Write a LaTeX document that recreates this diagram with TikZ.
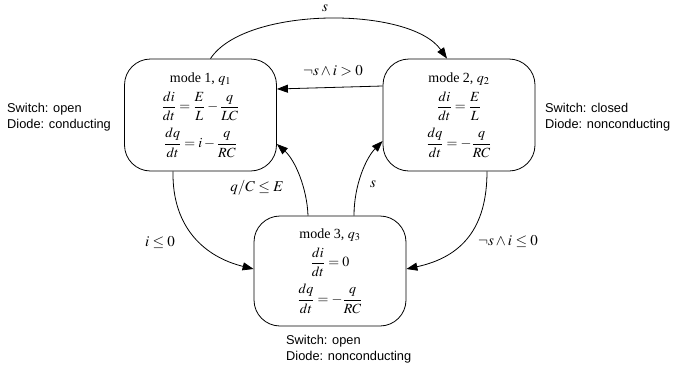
\documentclass[tikz,border=0pt]{standalone}
\usepackage{mathptmx}
\usepackage{fontspec}
\setmainfont{Liberation Serif}
\newfontfamily\arialf{Liberation Sans}
\usetikzlibrary{arrows.meta,calc}
\tikzset{
  mode/.style={draw, line width=0.8pt, rounded corners=26pt, minimum width=152pt, minimum height=112pt, align=center, inner sep=0pt, font=\fontsize{14}{17}\selectfont},
  conn/.style={draw, line width=0.8pt, -{Triangle[length=11pt,width=8pt]}},
  lbl/.style={font=\fontsize{15}{18}\selectfont, inner sep=0pt},
  side/.style={font=\arialf\fontsize{12.8}{16}\selectfont, align=left, anchor=west, inner sep=0pt}
}
\begin{document}
\begin{tikzpicture}[x=1pt,y=-1pt]
\useasboundingbox (0,0) rectangle (673,370);
\node[mode] (m1) at (200.5,115) {mode 1, $q_1$\\[5pt]
  $\displaystyle\frac{di}{dt}=\frac{E}{L}-\frac{q}{LC}$\\[7pt]
  $\displaystyle\frac{dq}{dt}=i-\frac{q}{RC}$};
\node[mode] (m2) at (459,115) {mode 2, $q_2$\\[5pt]
  $\displaystyle\frac{di}{dt}=\frac{E}{L}$\\[7pt]
  $\displaystyle\frac{dq}{dt}=-\frac{q}{RC}$};
\node[mode, minimum height=110pt] (m3) at (330,271) {mode 3, $q_3$\\[5pt]
  $\displaystyle\frac{di}{dt}=0$\\[7pt]
  $\displaystyle\frac{dq}{dt}=-\frac{q}{RC}$};
\node[side] (t1) at (7,117) {Switch: open\\Diode: conducting};
\node[side] (t2) at (545,117) {Switch: closed\\Diode: nonconducting};
\node[side] (t3) at (286,349) {Switch: open\\Diode: nonconducting};
% s : m1 -> m2
\draw[conn] ($(m1.north)+(10,0)$) .. controls (245,6) and (410,6) .. ($(m2.north)+(-12,0)$);
\node[lbl] (l1) at (325,8) {$s$};
% not s and i>0 : m2 -> m1
\draw[conn] ($(m2.west)+(0,-29)$) -- ($(m1.east)+(0,-26)$);
\node[lbl] (l2) at (333,71) {$\neg s\wedge i>0$};
% i<=0 : m1 -> m3
\draw[conn] ($(m1.south)+(-27.5,0)$) .. controls (172,228) and (205,257) .. ($(m3.west)+(0,-2)$);
\node[lbl] (l3) at (160,242) {$i\leq 0$};
% q/C <= E : m3 -> m1
\draw[conn] ($(m3.north)+(-22,0)$) .. controls (307,188) and (295,160) .. ($(m1.east)+(0,29)$);
\node[lbl] (l4) at (257,188) {$q/C\leq E$};
% s : m3 -> m2
\draw[conn] ($(m3.north)+(24,0)$) .. controls (354,185) and (366,158) .. ($(m2.west)+(0,26)$);
\node[lbl] (l5) at (373,184) {$s$};
% not s and i<=0 : m2 -> m3
\draw[conn] ($(m2.south)+(28,0)$) .. controls (487,228) and (462,257) .. ($(m3.east)+(0,-2)$);
\node[lbl] (l6) at (508,241) {$\neg s\wedge i\leq 0$};
\end{tikzpicture}
\end{document}
